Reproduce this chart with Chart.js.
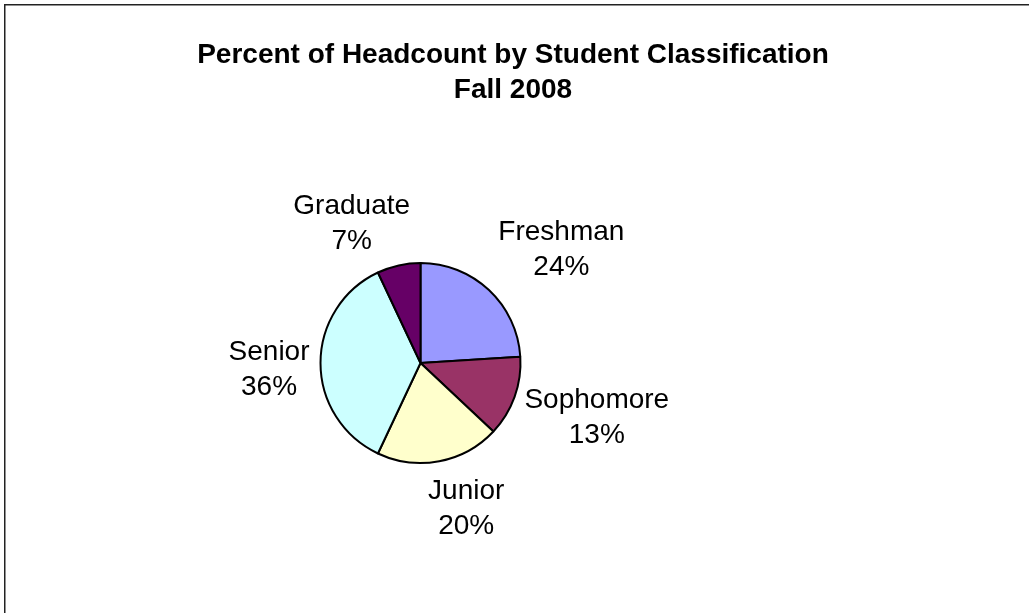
<!DOCTYPE html>
<html>
<head>
<meta charset="utf-8">
<script src="https://cdn.jsdelivr.net/npm/chart.js"></script>
<style>
  html, body { margin: 0; padding: 0; background: #fff; }
  #wrap { width: 1029px; height: 613px; }
</style>
</head>
<body>
<div id="wrap"><canvas id="grafico" width="1029" height="613"></canvas></div>
<script>
const titulo = ["Percent of Headcount by Student Classification", "Fall 2008"];
const categorias = ["Freshman", "Sophomore", "Junior", "Senior", "Graduate"];
const valores = [24, 13, 20, 36, 7];
const cores = ["#9999ff", "#993366", "#ffffcc", "#ccffff", "#660066"];
// excel moves the label boxes a bit off the radial line, so nudge them
const ajusteRotulo = [[19, -13], [0, 3], [17, 3], [4, 3], [-31, -4]];

const fonte = "'Liberation Sans', Arial, sans-serif";

const moldura = {
  id: "moldura",
  beforeDraw(chart) {
    const ctx = chart.ctx;
    ctx.save();
    ctx.fillStyle = "#fff";
    ctx.fillRect(0, 0, chart.width, chart.height);
    ctx.strokeStyle = "#222";
    ctx.lineWidth = 1.5;
    ctx.strokeRect(4.75, 4.75, chart.width + 10, chart.height + 10);
    ctx.fillStyle = "#000";
    ctx.font = "bold 28px " + fonte;
    ctx.textAlign = "center";
    ctx.textBaseline = "alphabetic";
    ctx.fillText(titulo[0], 513, 63);
    ctx.fillText(titulo[1], 513, 98);
    ctx.restore();
  },
  afterDatasetsDraw(chart) {
    const ctx = chart.ctx;
    const meta = chart.getDatasetMeta(0);
    const total = valores.reduce((a, b) => a + b, 0);
    ctx.save();
    ctx.fillStyle = "#000";
    ctx.font = "28px " + fonte;
    ctx.textAlign = "center";
    ctx.textBaseline = "alphabetic";
    meta.data.forEach(function (arc, i) {
      const p = arc.getProps(["x", "y", "startAngle", "endAngle", "outerRadius"], true);
      const meio = (p.startAngle + p.endAngle) / 2;
      const ux = Math.cos(meio);
      const uy = Math.sin(meio);
      const linha1 = categorias[i];
      const linha2 = Math.round(valores[i] / total * 100) + "%";
      const hw = Math.max(ctx.measureText(linha1).width, ctx.measureText(linha2).width) / 2;
      const hh = 27;
      const r = p.outerRadius + 15;
      const cx = p.x + r * ux + hw * ux + ajusteRotulo[i][0];
      const cy = p.y + r * uy + hh * uy + ajusteRotulo[i][1];
      ctx.fillText(linha1, cx, cy - 6.5);
      ctx.fillText(linha2, cx, cy + 29);
    });
    ctx.restore();
  }
};

const ctx = document.getElementById("grafico").getContext("2d");
const grafico = new Chart(ctx, {
  type: "pie",
  data: {
    labels: categorias,
    datasets: [{
      data: valores,
      backgroundColor: cores,
      borderColor: "#000",
      borderWidth: 2,
      borderAlign: "center"
    }]
  },
  options: {
    responsive: false,
    devicePixelRatio: 1,
    animation: false,
    layout: { padding: { left: 319.5, right: 507.5, top: 262, bottom: 149 } },
    plugins: {
      legend: { display: false },
      tooltip: { enabled: false },
      title: { display: false }
    }
  },
  plugins: [moldura]
});
</script>
</body>
</html>
